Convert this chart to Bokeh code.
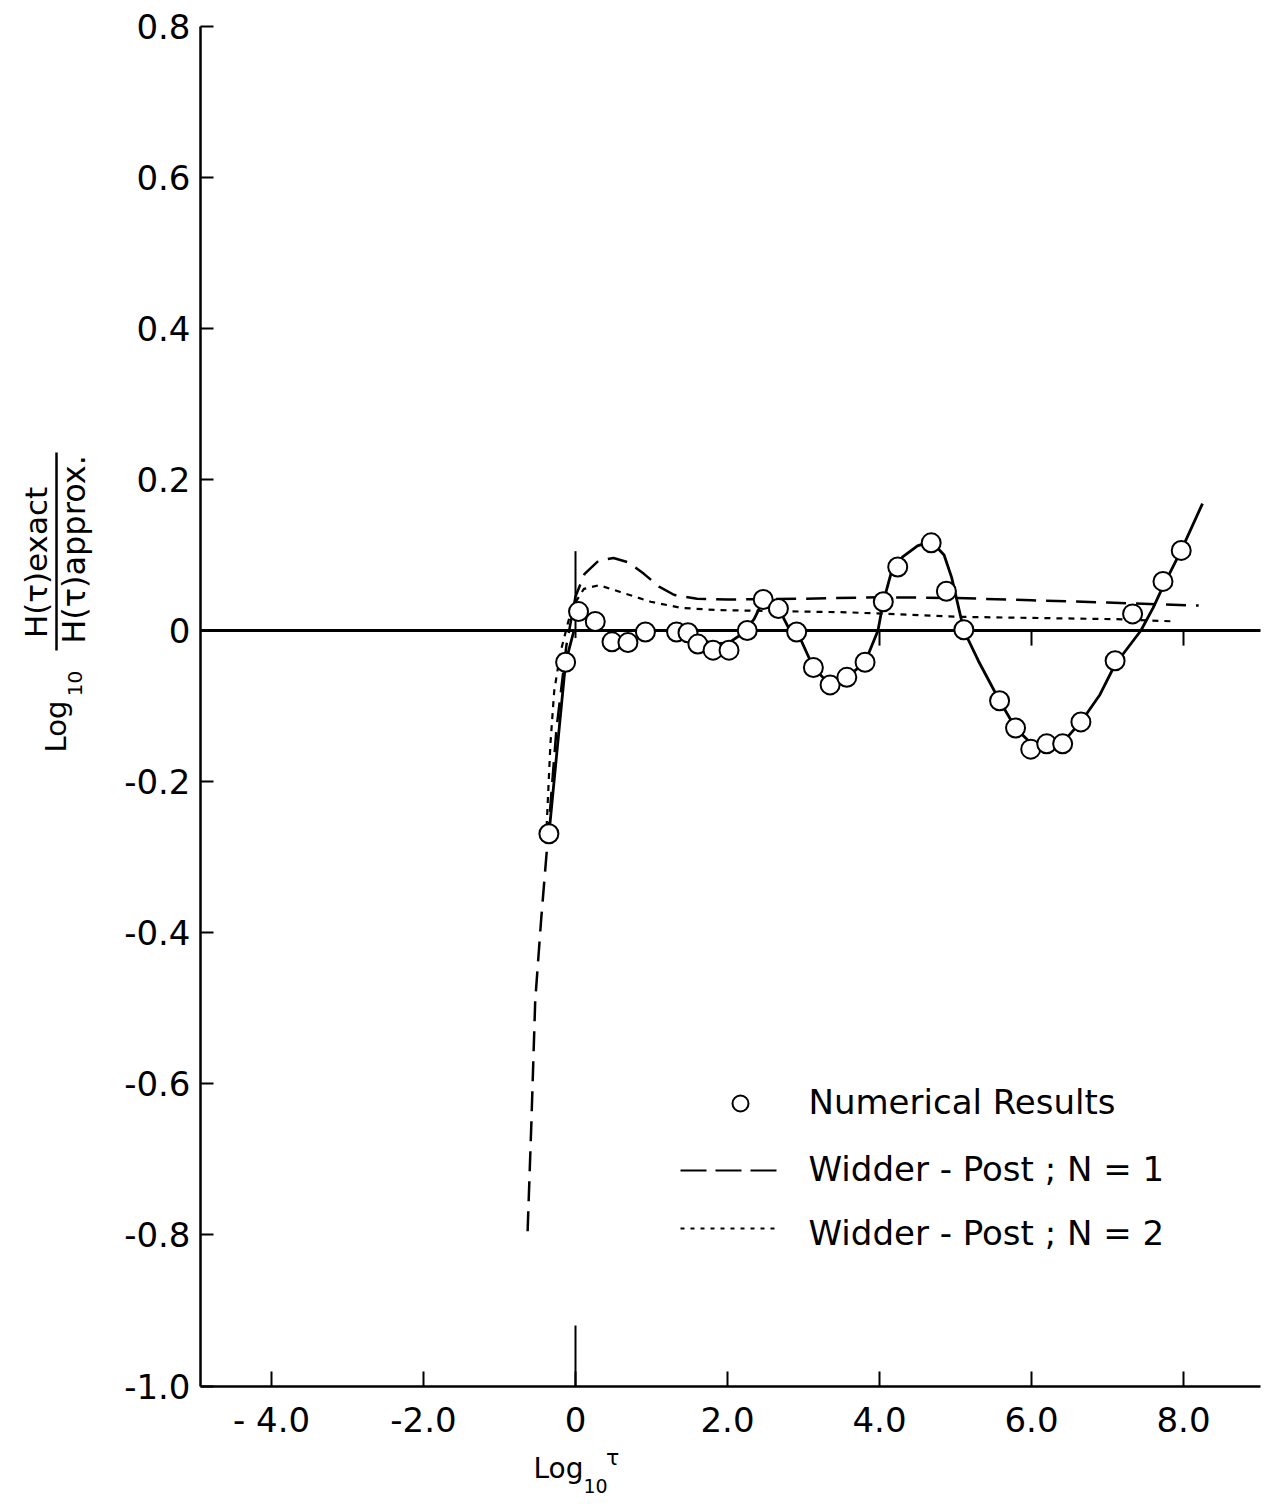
import math
from bokeh.plotting import figure
from bokeh.models import Range1d, FixedTicker, Label
from bokeh.embed import file_html
from bokeh.resources import INLINE

# ---------------- data ----------------
num_x = [-0.35, -0.13, 0.04, 0.26, 0.48, 0.69, 0.92, 1.33, 1.48, 1.61, 1.81, 2.02,
         2.26, 2.47, 2.67, 2.91, 3.13, 3.35, 3.57, 3.81, 4.05, 4.24, 4.68, 4.88,
         5.11, 5.58, 5.79, 5.99, 6.20, 6.41, 6.65, 7.10, 7.33, 7.73, 7.97]
num_y = [-0.269, -0.042, 0.025, 0.012, -0.015, -0.016, -0.002, -0.002, -0.003, -0.018,
         -0.026, -0.026, 0.000, 0.041, 0.029, -0.002, -0.049, -0.072, -0.062, -0.042,
         0.038, 0.084, 0.116, 0.052, 0.001, -0.093, -0.129, -0.157, -0.150, -0.150,
         -0.121, -0.040, 0.022, 0.065, 0.106]

fit_x = [-0.35, -0.13, -0.02, 0.30, 0.92, 1.40, 1.61, 1.81, 2.02, 2.20, 2.35, 2.47,
         2.67, 2.80, 2.91, 3.13, 3.35, 3.57, 3.81, 3.98, 4.05, 4.15, 4.30, 4.50,
         4.68, 4.85, 4.95, 5.11, 5.30, 5.58, 5.79, 6.00, 6.20, 6.41, 6.65, 6.90,
         7.10, 7.44, 7.60, 7.73, 7.97, 8.25]
fit_y = [-0.270, -0.042, 0.000, 0.000, 0.000, 0.000, -0.010, -0.018, -0.016, -0.004,
         0.015, 0.040, 0.030, 0.004, 0.000, -0.049, -0.072, -0.062, -0.042, 0.000,
         0.038, 0.075, 0.097, 0.112, 0.118, 0.100, 0.070, 0.000, -0.040, -0.093,
         -0.129, -0.150, -0.154, -0.148, -0.121, -0.085, -0.045, 0.000, 0.030,
         0.058, 0.106, 0.168]

wp1_x = [-0.63, -0.58, -0.53, -0.45, -0.36, -0.25, -0.12, 0.00, 0.12, 0.30, 0.50,
         0.70, 0.90, 1.10, 1.30, 1.60, 2.00, 3.00, 4.00, 5.00, 6.00, 7.00, 8.20]
wp1_y = [-0.795, -0.650, -0.490, -0.380, -0.270, -0.130, -0.020, 0.045, 0.075, 0.092,
         0.096, 0.090, 0.075, 0.058, 0.047, 0.042, 0.041, 0.042, 0.044, 0.043, 0.040,
         0.037, 0.033]

wp2_x = [-0.38, -0.33, -0.28, -0.20, -0.10, -0.04, 0.11, 0.31, 0.59, 0.99, 1.39,
         1.87, 3.60, 5.10, 7.10, 7.90]
wp2_y = [-0.260, -0.150, -0.080, -0.030, 0.010, 0.031, 0.055, 0.060, 0.051, 0.038,
         0.030, 0.027, 0.024, 0.018, 0.015, 0.012]

x_ticks = [-4, -2, 0, 2, 4, 6, 8]
x_tick_labels = ["- 4.0", "-2.0", "0", "2.0", "4.0", "6.0", "8.0"]
y_ticks = [0.8, 0.6, 0.4, 0.2, 0, -0.2, -0.4, -0.6, -0.8, -1.0]
y_tick_labels = ["0.8", "0.6", "0.4", "0.2", "0", "-0.2", "-0.4", "-0.6", "-0.8", "-1.0"]
zero_line_ticks = [4, 6, 8]

legend_labels = ["Numerical Results", "Widder - Post ; N = 1", "Widder - Post ; N = 2"]

# ---------------- layout (pixel mapping of the reference) ----------------
W, H = 1267, 1504
PX0, PXU = 575.0, 76.0      # x=0 at pixel 575, 76 px per unit
PY0, PYU = 630.0, 755.6     # y=0 at pixel 630, 755.6 px per unit


def dx(px):
    return (px - PX0) / PXU


def dy(py):
    return (PY0 - py) / PYU


X_LEFT, X_RIGHT = dx(200), dx(1260)
Y_BOT, Y_TOP = -1.0, 0.8

FONT = "DejaVu Sans"

p = figure(width=W, height=H, output_backend="svg", toolbar_location=None,
           x_range=Range1d(dx(0), dx(W)), y_range=Range1d(dy(H), dy(0)),
           min_border=0, min_border_left=0, min_border_right=0,
           min_border_top=0, min_border_bottom=0, title=None)
p.outline_line_color = None
p.background_fill_color = "white"
p.border_fill_color = "white"
p.xgrid.grid_line_color = None
p.ygrid.grid_line_color = None

# x axis
xa = p.xaxis[0]
xa.fixed_location = Y_BOT
xa.bounds = (X_LEFT, X_RIGHT)
xa.ticker = FixedTicker(ticks=x_ticks)
xa.major_label_overrides = {t: l for t, l in zip(x_ticks, x_tick_labels)}
xa.axis_line_width = 2.5
xa.axis_line_color = "black"
xa.major_tick_in = 15
xa.major_tick_out = 0
xa.major_tick_line_width = 2
xa.minor_tick_line_color = None
xa.major_label_standoff = 14
xa.major_label_text_font = FONT
xa.major_label_text_font_size = "34px"
xa.major_label_text_color = "black"

# y axis
ya = p.yaxis[0]
ya.fixed_location = X_LEFT
ya.bounds = (Y_BOT, Y_TOP)
ya.ticker = FixedTicker(ticks=y_ticks)
ya.major_label_overrides = {t: l for t, l in zip(y_ticks, y_tick_labels)}
ya.axis_line_width = 2.5
ya.axis_line_color = "black"
ya.major_tick_in = 13
ya.major_tick_out = 0
ya.major_tick_line_width = 2
ya.minor_tick_line_color = None
ya.major_label_standoff = 10
ya.major_label_text_font = FONT
ya.major_label_text_font_size = "34px"
ya.major_label_text_color = "black"

# zero reference line and its ticks
p.line([X_LEFT, X_RIGHT], [0, 0], line_color="black", line_width=3)
p.segment(x0=zero_line_ticks, y0=[0] * len(zero_line_ticks),
          x1=zero_line_ticks, y1=[-0.02] * len(zero_line_ticks),
          line_color="black", line_width=2)
# vertical marks at log tau = 0
p.segment(x0=[0, 0], y0=[0.105, Y_BOT], x1=[0, 0], y1=[-0.01, dy(1325)],
          line_color="black", line_width=2)

# curves
p.line(wp1_x, wp1_y, line_color="black", line_width=2.5, line_dash="20 10")
p.line(wp2_x, wp2_y, line_color="black", line_width=2.2, line_dash="6 6")
p.line(fit_x, fit_y, line_color="black", line_width=2.8)
p.scatter(num_x, num_y, marker="circle", size=19, fill_color="white",
          line_color="black", line_width=2)

# legend (drawn by hand as in the original figure)
p.scatter([dx(740)], [dy(1103)], marker="circle", size=16, fill_color="white",
          line_color="black", line_width=2)
p.line([dx(680), dx(780)], [dy(1170), dy(1170)], line_color="black", line_width=2,
       line_dash="26 9")
p.line([dx(680), dx(780)], [dy(1228), dy(1228)], line_color="black", line_width=1.8,
       line_dash="4 6")
for txt, py in zip(legend_labels, [1101, 1168, 1232]):
    p.add_layout(Label(x=dx(808), y=dy(py), text=txt, text_align="left",
                       text_baseline="middle", text_font=FONT,
                       text_font_size="34px", text_color="black"))

# y axis title: Log10 [H(tau)exact / H(tau)approx.]
half_pi = math.pi / 2
p.add_layout(Label(x=dx(35), y=dy(562), text="H(τ)exact", angle=half_pi,
                   text_align="center", text_baseline="middle", text_font=FONT,
                   text_font_size="31px", text_color="black"))
p.add_layout(Label(x=dx(73), y=dy(549), text="H(τ)approx.", angle=half_pi,
                   text_align="center", text_baseline="middle", text_font=FONT,
                   text_font_size="32px", text_color="black"))
p.line([dx(56), dx(56)], [dy(452), dy(650)], line_color="black", line_width=2.5)
p.add_layout(Label(x=dx(55), y=dy(726), text="Log", angle=half_pi,
                   text_align="center", text_baseline="middle", text_font=FONT,
                   text_font_size="29px", text_color="black"))
p.add_layout(Label(x=dx(74), y=dy(683), text="10", angle=half_pi,
                   text_align="center", text_baseline="middle", text_font=FONT,
                   text_font_size="20px", text_color="black"))

# x axis title: Log10 tau
p.add_layout(Label(x=dx(558), y=dy(1468), text="Log", text_align="center",
                   text_baseline="middle", text_font=FONT, text_font_size="28px",
                   text_color="black"))
p.add_layout(Label(x=dx(595), y=dy(1485), text="10", text_align="center",
                   text_baseline="middle", text_font=FONT, text_font_size="19px",
                   text_color="black"))
p.add_layout(Label(x=dx(612), y=dy(1457), text="τ", text_align="center",
                   text_baseline="middle", text_font=FONT, text_font_size="22px",
                   text_color="black"))

open("out.html", "w").write(file_html(p, INLINE))
